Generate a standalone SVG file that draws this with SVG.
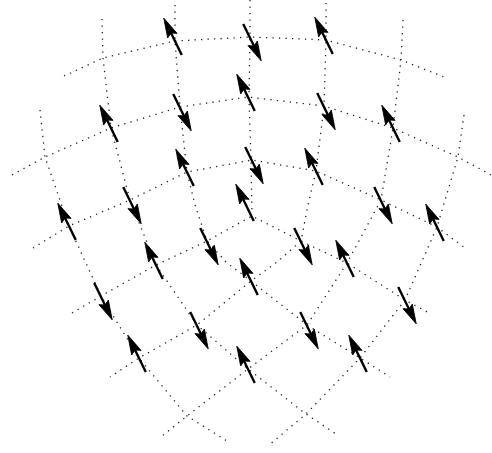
<svg xmlns="http://www.w3.org/2000/svg" xmlns:xlink="http://www.w3.org/1999/xlink" width="492" height="453" viewBox="0 0 492 453">
<defs>
<style>
.g{fill:none;stroke:#222;stroke-width:1.3;stroke-dasharray:1.3 5.2;stroke-linecap:butt}
.s{stroke:#000;stroke-width:2.4;fill:none}
.h{fill:#000;stroke:#000;stroke-width:0.8;stroke-linejoin:miter}
</style>
<g id="arr">
<line class="s" x1="0" y1="20" x2="0" y2="-5"/>
<polygon class="h" points="0,-21 -5.2,-1.5 0,-4.5 5.2,-1.5"/>
</g>
<use id="au" xlink:href="#arr" href="#arr" transform="rotate(-26)"/>
<use id="ad" xlink:href="#arr" href="#arr" transform="rotate(154)"/>
</defs>
<rect width="492" height="453" fill="#fff"/>
<g id="grid">
<path class="g" d="M250,0 L250,37 L249,98 L251,160 L252,214"/>
<path class="g" d="M175,5 L175,41 L180,107 L187,172 L195,205 L207,241 L226,262 L251,281 L307,325 L360,358 L390,377"/>
<path class="g" d="M326,3 L326,40 L324,106 L316,171 L308,205 L301,241 L277,262 L251,281 L197,325 L139,358 L110,377"/>
<path class="g" d="M102,19 L103,58 L111,128 L130,200 L156,265 L197,325 L248,369 L306,414 L339,436"/>
<path class="g" d="M403,20 L401,60 L393,128 L381,200 L347,263 L307,325 L248,369 L187,416 L162,436"/>
<path class="g" d="M40,110 L45,157 L69,226 L101,296 L139,358 L187,416 L227,441"/>
<path class="g" d="M464,115 L458,157 L437,227 L405,300 L360,358 L306,414 L268,446"/>
<path class="g" d="M64,76 L103,58 L175,41 L250,37 L326,40 L401,60 L444,77"/>
<path class="g" d="M12,175 L45,157 L111,128 L180,107 L248,97 L324,106 L393,128 L458,157 L491,175"/>
<path class="g" d="M33,248 L69,226 L130,200 L187,172 L252,160 L316,171 L381,200 L437,227 L465,248"/>
<path class="g" d="M72,313 L101,296 L156,265 L207,241 L252,216 L301,241 L347,263 L405,300 L431,314"/>
</g>
<g id="arrows">
<g id="n-a"><use href="#au" xlink:href="#au" transform="translate(173,37)"/></g>
<g id="n-b"><use href="#ad" xlink:href="#ad" transform="translate(252,42)"/></g>
<g id="n-c"><use href="#au" xlink:href="#au" transform="translate(324,36)"/></g>
<g id="n-d"><use href="#au" xlink:href="#au" transform="translate(109,124)"/></g>
<g id="n-e"><use href="#ad" xlink:href="#ad" transform="translate(182,112)"/></g>
<g id="n-f"><use href="#au" xlink:href="#au" transform="translate(246,93)"/></g>
<g id="n-g"><use href="#ad" xlink:href="#ad" transform="translate(326,111)"/></g>
<g id="n-h"><use href="#au" xlink:href="#au" transform="translate(391,124)"/></g>
<g id="n-i"><use href="#au" xlink:href="#au" transform="translate(185,168)"/></g>
<g id="n-j"><use href="#ad" xlink:href="#ad" transform="translate(254,165)"/></g>
<g id="n-k"><use href="#au" xlink:href="#au" transform="translate(314,167)"/></g>
<g id="n-l"><use href="#au" xlink:href="#au" transform="translate(67,222)"/></g>
<g id="n-m"><use href="#ad" xlink:href="#ad" transform="translate(132,205)"/></g>
<g id="n-n"><use href="#au" xlink:href="#au" transform="translate(245,203)"/></g>
<g id="n-o"><use href="#ad" xlink:href="#ad" transform="translate(383,205)"/></g>
<g id="n-p"><use href="#au" xlink:href="#au" transform="translate(435,223)"/></g>
<g id="n-q"><use href="#au" xlink:href="#au" transform="translate(154,261)"/></g>
<g id="n-r"><use href="#ad" xlink:href="#ad" transform="translate(209,246)"/></g>
<g id="n-s"><use href="#ad" xlink:href="#ad" transform="translate(303,246)"/></g>
<g id="n-t"><use href="#au" xlink:href="#au" transform="translate(345,259)"/></g>
<g id="n-u"><use href="#au" xlink:href="#au" transform="translate(249,277)"/></g>
<g id="n-v"><use href="#ad" xlink:href="#ad" transform="translate(103,301)"/></g>
<g id="n-w"><use href="#ad" xlink:href="#ad" transform="translate(199,330)"/></g>
<g id="n-x"><use href="#ad" xlink:href="#ad" transform="translate(309,330)"/></g>
<g id="n-y"><use href="#ad" xlink:href="#ad" transform="translate(407,305)"/></g>
<g id="n-z"><use href="#au" xlink:href="#au" transform="translate(137,354)"/></g>
<g id="n-aa"><use href="#au" xlink:href="#au" transform="translate(246,365)"/></g>
<g id="n-bb"><use href="#au" xlink:href="#au" transform="translate(358,354)"/></g>
</g>
</svg>
